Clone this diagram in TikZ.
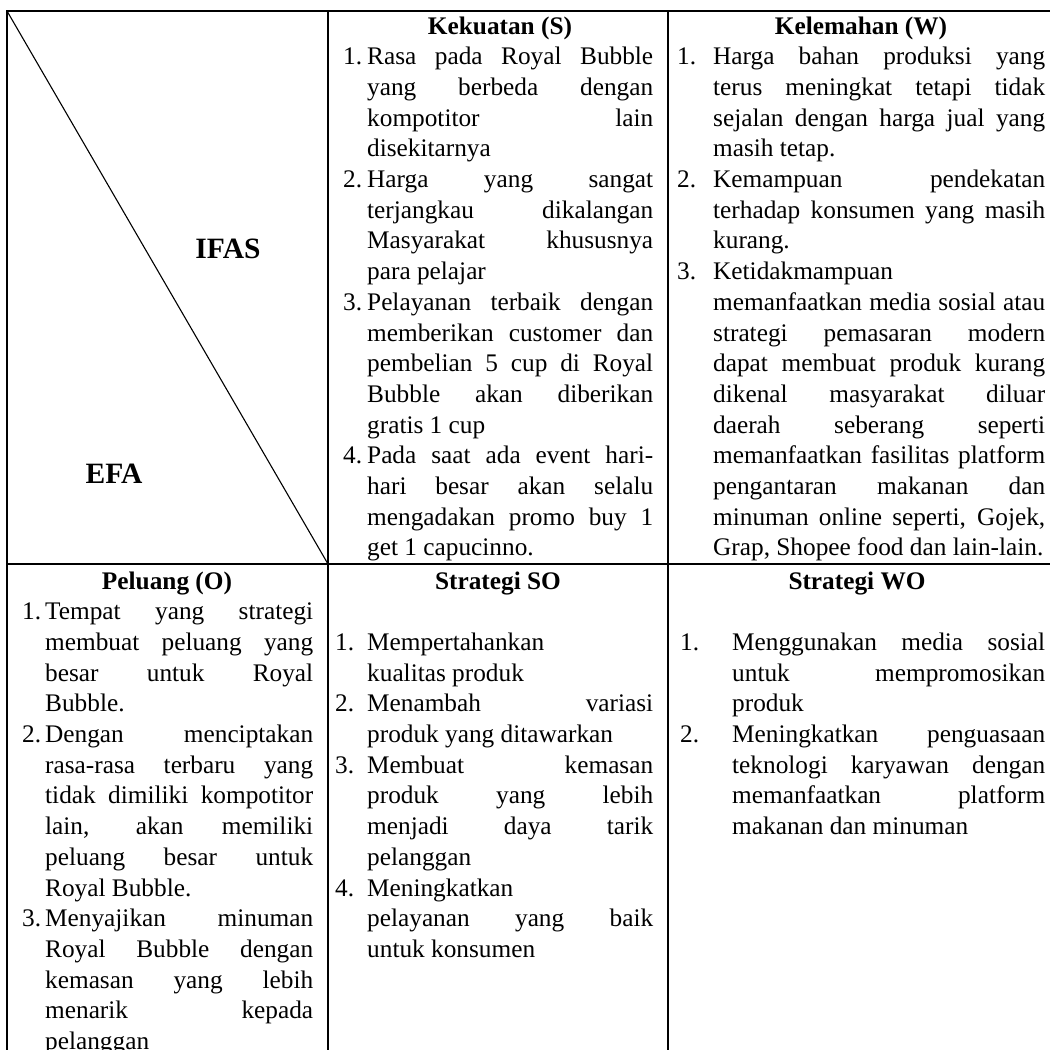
\documentclass[tikz,border=0pt]{standalone}
\usepackage{fontspec}
\setmainfont{Liberation Serif}
\newlength\lblw
\newlength\txtw
\newcommand\Jl[2]{\makebox[\lblw][l]{#1}\makebox[\txtw][s]{#2}\par}
\newcommand\Ll[2]{\makebox[\lblw][l]{#1}\makebox[\txtw][l]{#2}\par}
\newcommand\cellbox[3]{\parbox[t]{400pt}{\fontsize{25.3}{30.7}\selectfont\lineskiplimit=-100pt\parindent=0pt\setlength\lblw{#1}\setlength\txtw{#2}#3}}
\tikzset{
  grid/.style={line width=2.2pt, line cap=rect},
  diag/.style={line width=1.1pt},
  head/.style={anchor=base, inner sep=0pt, font=\fontsize{25.3}{30.7}\selectfont\bfseries},
  big/.style={anchor=base, inner sep=0pt, font=\fontsize{29.5}{34}\selectfont\bfseries},
  body/.style={anchor=base west, inner sep=0pt}
}
\begin{document}
\begin{tikzpicture}[x=1pt,y=-1pt]
\useasboundingbox (0,0) rectangle (1050,1050);
\fill[white] (0,0) rectangle (1050,1050);
\clip (0,0) rectangle (1050,1050);
% grid coordinates
\coordinate (tl) at (7,11);
\coordinate (tr) at (1060,11);
\coordinate (ml) at (7,564);
\coordinate (mr) at (1060,564);
\coordinate (c1t) at (328,11);
\coordinate (c1m) at (328,564);
\coordinate (c2t) at (668,11);
\coordinate (bl) at (7,1070);
\coordinate (c1b) at (328,1070);
\coordinate (c2b) at (668,1070);
\coordinate (rb) at (1060,1070);
\draw[grid] (tl) -- (tr);
\draw[grid] (ml) -- (mr);
\draw[grid] (tl) -- (bl);
\draw[grid] (c1t) -- (c1b);
\draw[grid] (c2t) -- (c2b);
\draw[grid] (tr) -- (rb);
\draw[diag] (tl) -- (c1m);
% labels of corner cell
\node[big] (ifas) at (228,258) {IFAS};
\node[big] (efa) at (114,483) {EFA};
% headers
\node[head] (hS) at (500,34) {Kekuatan (S)};
\node[head] (hW) at (861,34) {Kelemahan (W)};
\node[head] (hO) at (167,589) {Peluang (O)};
\node[head] (hSO) at (498,589) {Strategi SO};
\node[head] (hWO) at (857,589) {Strategi WO};
% Kekuatan
\node[body] (tS) at (343,64.7) {\cellbox{24pt}{286pt}{%
\Jl{1.}{Rasa pada Royal Bubble}
\Jl{}{yang berbeda dengan}
\Jl{}{kompotitor lain}
\Ll{}{disekitarnya}
\Jl{2.}{Harga yang sangat}
\Jl{}{terjangkau dikalangan}
\Jl{}{Masyarakat khususnya}
\Ll{}{para pelajar}
\Jl{3.}{Pelayanan terbaik dengan}
\Jl{}{memberikan customer dan}
\Jl{}{pembelian 5 cup di Royal}
\Jl{}{Bubble akan diberikan}
\Ll{}{gratis 1 cup}
\Jl{4.}{Pada saat ada event hari-}
\Jl{}{hari besar akan selalu}
\Jl{}{mengadakan promo buy 1}
\Ll{}{get 1 capucinno.}}};
% Kelemahan
\node[body] (tW) at (677,64.7) {\cellbox{36pt}{332pt}{%
\Jl{1.}{Harga bahan produksi yang}
\Jl{}{terus meningkat tetapi tidak}
\Jl{}{sejalan dengan harga jual yang}
\Ll{}{masih tetap.}
\Jl{2.}{Kemampuan pendekatan}
\Jl{}{terhadap konsumen yang masih}
\Ll{}{kurang.}
\Ll{3.}{Ketidakmampuan}
\Jl{}{memanfaatkan media sosial atau}
\Jl{}{strategi pemasaran modern}
\Jl{}{dapat membuat produk kurang}
\Jl{}{dikenal masyarakat diluar}
\Jl{}{daerah seberang seperti}
\Jl{}{memanfaatkan fasilitas platform}
\Jl{}{pengantaran makanan dan}
\Jl{}{minuman online seperti, Gojek,}
\Ll{}{Grap, Shopee food dan lain-lain.}}};
% Peluang
\node[body] (tO) at (22,619.7) {\cellbox{23pt}{268pt}{%
\Jl{1.}{Tempat yang strategi}
\Jl{}{membuat peluang yang}
\Jl{}{besar untuk Royal}
\Ll{}{Bubble.}
\Jl{2.}{Dengan menciptakan}
\Jl{}{rasa-rasa terbaru yang}
\Jl{}{tidak dimiliki kompotitor}
\Jl{}{lain, akan memiliki}
\Jl{}{peluang besar untuk}
\Ll{}{Royal Bubble.}
\Jl{3.}{Menyajikan minuman}
\Jl{}{Royal Bubble dengan}
\Jl{}{kemasan yang lebih}
\Jl{}{menarik kepada}
\Ll{}{pelanggan}}};
% Strategi SO
\node[body] (tSO) at (335,650.4) {\cellbox{32pt}{286pt}{%
\Ll{1.}{Mempertahankan}
\Ll{}{kualitas produk}
\Jl{2.}{Menambah variasi}
\Ll{}{produk yang ditawarkan}
\Jl{3.}{Membuat kemasan}
\Jl{}{produk yang lebih}
\Jl{}{menjadi daya tarik}
\Ll{}{pelanggan}
\Ll{4.}{Meningkatkan}
\Jl{}{pelayanan yang baik}
\Ll{}{untuk konsumen}}};
% Strategi WO
\node[body] (tWO) at (680,650.4) {\cellbox{52pt}{313pt}{%
\Jl{1.}{Menggunakan media sosial}
\Jl{}{untuk mempromosikan}
\Ll{}{produk}
\Jl{2.}{Meningkatkan penguasaan}
\Jl{}{teknologi karyawan dengan}
\Jl{}{memanfaatkan platform}
\Ll{}{makanan dan minuman}}};
\end{tikzpicture}
\end{document}
